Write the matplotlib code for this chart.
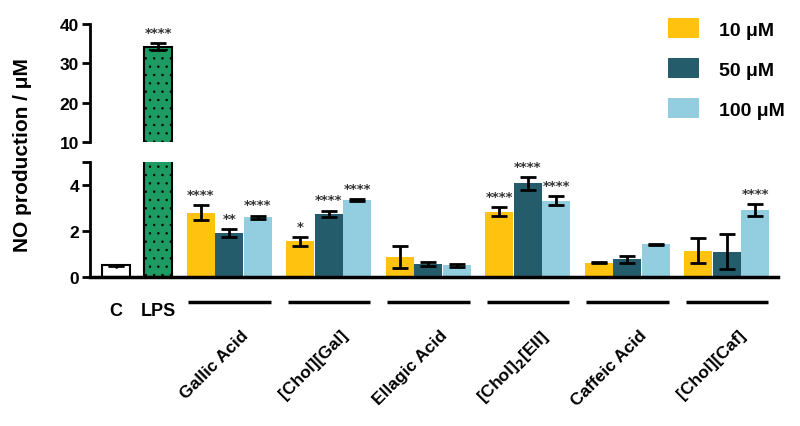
import matplotlib
matplotlib.use("Agg")
import matplotlib.pyplot as plt
import numpy as np
from matplotlib.patches import Patch

plt.rcParams["font.family"] = ["Liberation Sans", "DejaVu Sans"]
plt.rcParams["font.weight"] = "bold"
plt.rcParams["hatch.linewidth"] = 0.5

# data
controls = ["C", "LPS"]
control_vals = [0.5, 34.2]
control_err = [0.04, 0.9]
control_stars = ["", "****"]

groups = ["Gallic Acid", "[Chol][Gal]", "Ellagic Acid", r"[Chol]$_\mathbf{2}$[Ell]",
          "Caffeic Acid", "[Chol][Caf]"]
conc_labels = ["10 \u03bcM", "50 \u03bcM", "100 \u03bcM"]
vals_10 = [2.80, 1.55, 0.88, 2.85, 0.62, 1.14]
err_10 = [0.33, 0.20, 0.47, 0.20, 0.03, 0.55]
vals_50 = [1.90, 2.74, 0.57, 4.07, 0.78, 1.10]
err_50 = [0.18, 0.15, 0.10, 0.27, 0.15, 0.75]
vals_100 = [2.60, 3.36, 0.50, 3.32, 1.42, 2.92]
err_100 = [0.07, 0.04, 0.06, 0.20, 0.03, 0.25]
stars_10 = ["****", "*", "", "****", "", ""]
stars_50 = ["**", "****", "", "****", "", ""]
stars_100 = ["****", "****", "", "****", "", "****"]

colors = ["#FFC20E", "#245C6C", "#93CDE0"]
lps_green = "#1E9A63"

fig = plt.figure(figsize=(8, 4.27), dpi=100)
ax_lo = fig.add_axes([0.1125, 0.349, 0.86, 0.269])
ax_hi = fig.add_axes([0.1125, 0.665, 0.86, 0.2765], sharex=ax_lo)

width = 0.98
ctrl_x = np.array([0.0, 1.5])
grp_x = 3 + 3.5 * np.arange(len(groups))

series = [(vals_10, err_10, stars_10), (vals_50, err_50, stars_50),
          (vals_100, err_100, stars_100)]

err_kw = dict(ecolor="black", elinewidth=2, capsize=6, capthick=2)


def add_stars(ax, xs, tops, labels):
    for x, t, s in zip(xs, tops, labels):
        if s:
            ax.annotate(s, (x, t), xytext=(0, 3), textcoords="offset points",
                        ha="center", va="bottom", fontsize=9.5, color="#333333",
                        family="DejaVu Sans", fontweight="bold", annotation_clip=False)


for ax in (ax_lo, ax_hi):
    ax.bar(ctrl_x[0], control_vals[0], width=width, color="white", edgecolor="black",
           linewidth=1.5, hatch=".", yerr=control_err[0], error_kw=err_kw, zorder=2)
    ax.bar(ctrl_x[1], control_vals[1], width=width, color=lps_green, edgecolor="black",
           linewidth=1.5, hatch="..", yerr=control_err[1], error_kw=err_kw, zorder=2)
    for k, (v, e, s) in enumerate(series):
        ax.bar(grp_x + k, v, width=width, color=colors[k], yerr=e,
               error_kw=err_kw, zorder=2)

for k, (v, e, s) in enumerate(series):
    add_stars(ax_lo, grp_x + k, np.array(v) + np.array(e), s)
add_stars(ax_hi, ctrl_x, np.array(control_vals) + np.array(control_err), control_stars)

ax_lo.set_xlim(-0.9, 23.3)
ax_lo.set_ylim(0, 5)
ax_hi.set_ylim(10, 40)

ax_lo.set_yticks([0, 2, 4, 5])
ax_lo.set_yticklabels(["0", "2", "4", ""])
ax_hi.set_yticks([10, 20, 30, 40])

for ax in (ax_lo, ax_hi):
    ax.spines["top"].set_visible(False)
    ax.spines["right"].set_visible(False)
    ax.spines["left"].set_linewidth(2)
    ax.tick_params(axis="y", width=2, length=6, labelsize=12.5, pad=2)
    ax.tick_params(axis="x", bottom=False, labelbottom=False)
    for lab in ax.get_yticklabels():
        lab.set_fontweight("bold")
ax_hi.spines["bottom"].set_visible(False)
ax_lo.spines["bottom"].set_linewidth(2.5)
ax_lo.spines["left"].set_bounds(0, 5)

# category labels under the axis
trans = ax_lo.get_xaxis_transform()
for x, lab in zip(ctrl_x, controls):
    ax_lo.text(x, -0.29, lab, transform=trans, ha="center", va="center",
               fontsize=13, fontweight="bold")
for x, lab in zip(grp_x, groups):
    ax_lo.plot([x - 0.45, x + 2.45], [-0.217, -0.217], transform=trans,
               color="black", lw=2.5, clip_on=False, solid_capstyle="butt")
    ax_lo.annotate(lab, (x + 1.4, 0), xycoords=trans, xytext=(0, -36),
                   textcoords="offset points", ha="right", va="top",
                   rotation=45, rotation_mode="anchor", fontsize=12.5,
                   fontweight="bold", annotation_clip=False)

fig.text(0.028, 1 - 155 / 427, "NO production / \u03bcM", rotation=90,
         ha="center", va="center", fontsize=15, fontweight="bold")

handles = [Patch(facecolor=c, edgecolor="none") for c in colors]
fig.legend(handles, conc_labels, loc="upper left", bbox_to_anchor=(0.835, 0.955),
           frameon=False, handlelength=1.6, handleheight=1.2,
           labelspacing=1.0, handletextpad=1.0, borderpad=0, borderaxespad=0,
           prop={"weight": "bold", "size": 14})

fig.savefig("out.png", dpi=100)
